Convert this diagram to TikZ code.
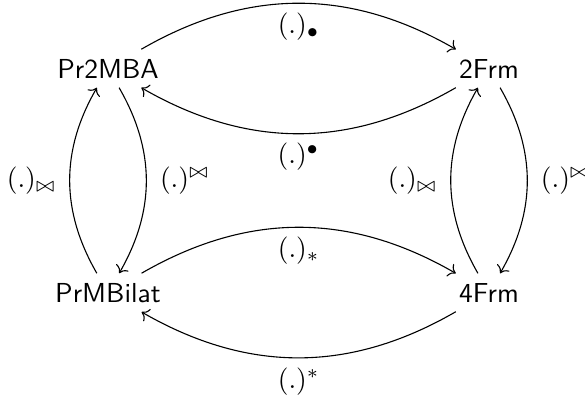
\documentclass[tikz,border=0pt]{standalone}
\usetikzlibrary{cd}
\begin{document}
\begin{tikzpicture}[x=0.364pt,y=0.364pt,
  obj/.style={font=\sffamily, anchor=base, inner sep=0.333em},
  arr/.style={-cm to, line width=0.4pt},
  lbl/.style={auto, inner ysep=0.333em, inner xsep=4.8pt}]
\useasboundingbox (0,0) rectangle (585,405);
\node[obj] (p2) at (108,327) {Pr2MBA};
\node[obj] (f2) at (489,327) {2Frm};
\node[obj] (pb) at (108,103) {PrMBilat};
\node[obj] (f4) at (489,103) {4Frm};
\draw[arr] (p2) to[bend left=30] node[lbl, swap] {$(.)_\bullet$} (f2);
\draw[arr] (f2) to[bend left=30] node[lbl] {$(.)^\bullet$} (p2);
\draw[arr] (p2) to[bend left=30] node[lbl] {$(.)^{\bowtie}$} (pb);
\draw[arr] (pb) to[bend left=30] node[lbl] {$(.)_{\bowtie}$} (p2);
\draw[arr] (f2) to[bend left=30] node[lbl] {$(.)^{\bowtie}$} (f4);
\draw[arr] (f4) to[bend left=30] node[lbl] {$(.)_{\bowtie}$} (f2);
\draw[arr] (pb) to[bend left=30] node[lbl, swap] {$(.)_*$} (f4);
\draw[arr] (f4) to[bend left=30] node[lbl] {$(.)^*$} (pb);
\end{tikzpicture}
\end{document}
